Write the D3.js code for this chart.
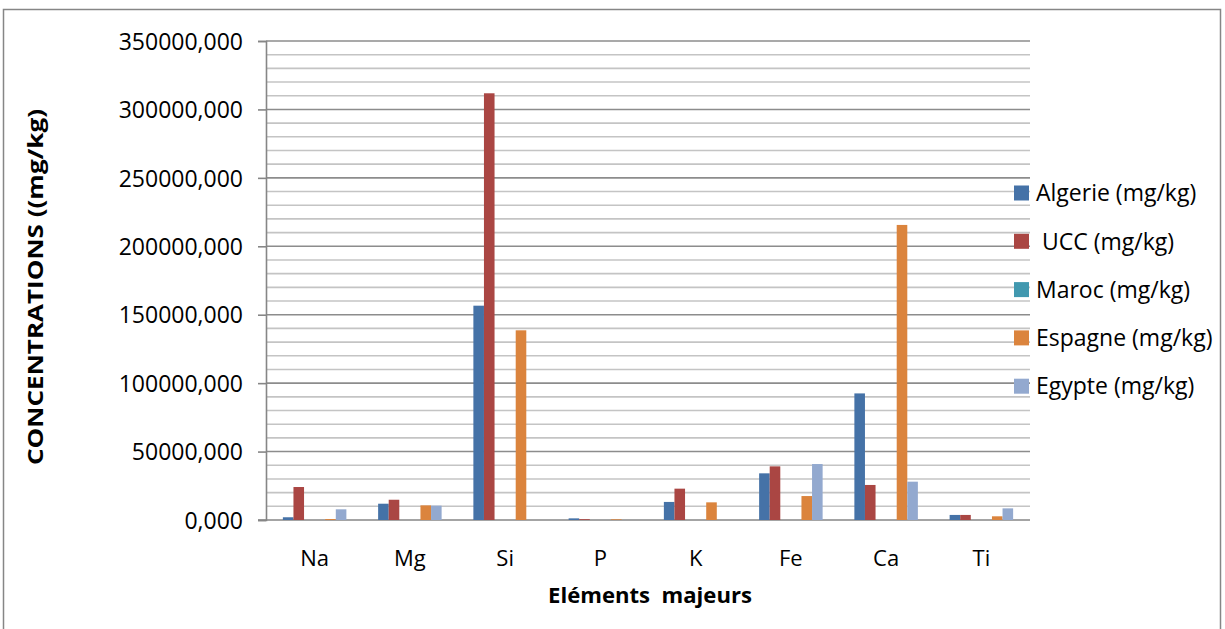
<!DOCTYPE html>
<html>
<head>
<meta charset="utf-8">
<script src="https://cdn.jsdelivr.net/npm/d3@7"></script>
<style>
  body { margin: 0; background: #fff; }
  svg text { font-family: "Open Sans", sans-serif; fill: #000; }
</style>
</head>
<body>
<div id="chart"></div>
<script>
// elements on the x axis
const elements = ["Na", "Mg", "Si", "P", "K", "Fe", "Ca", "Ti"]

// series values (mg/kg)
const algerie = [2000, 11900, 156600, 1200, 13200, 34100, 92500, 3700]
const ucc     = [24100, 14800, 311800, 600, 22900, 39200, 25600, 3700]
const maroc   = [0, 0, 0, 0, 0, 0, 0, 0]
const espagne = [700, 10700, 138600, 500, 12900, 17500, 215600, 2700]
const egypte  = [7800, 10500, 0, 0, 0, 40900, 28000, 8500]

const seriesNames = ["Algerie (mg/kg)", " UCC (mg/kg)", "Maroc (mg/kg)", "Espagne (mg/kg)", "Egypte (mg/kg)"]
const seriesColors = ["#4572A7", "#AA4643", "#4198AF", "#DB843D", "#93A9CF"]
// the original workbook keeps an empty slot between Maroc and Espagne
const slotOf = [0, 1, 2, 4, 5]

const yTicks = d3.range(0, 350001, 50000)

const series = [algerie, ucc, maroc, espagne, egypte].map((vals, i) => ({
  name: seriesNames[i], color: seriesColors[i], slot: slotOf[i],
  values: vals.map((v, j) => ({el: elements[j], v: v}))
}))

const W = 1225, H = 629
const plot = {left: 267, right: 1029, top: 41, bottom: 520}

const svg = d3.select("#chart").append("svg")
  .attr("width", W).attr("height", H)

// outer frame
svg.append("rect")
  .attr("x", 3.5).attr("y", 9.5)
  .attr("width", 1217).attr("height", 640)
  .attr("fill", "none").attr("stroke", "#868686").attr("stroke-width", 1.5)

const x = d3.scaleBand().domain(elements).range([plot.left, plot.right])
const xs = d3.scaleBand().domain(d3.range(6)).range([0, x.bandwidth()]).paddingOuter(1.5)
const y = d3.scaleLinear().domain([0, 350000]).range([plot.bottom, plot.top])

// gridlines (minor every 10000, major every 50000)
svg.append("g").selectAll("line")
  .data(d3.range(10000, 350001, 10000))
  .join("line")
    .attr("x1", plot.left - 1).attr("x2", plot.right + 1)
    .attr("y1", d => y(d)).attr("y2", d => y(d))
    .attr("stroke", d => d % 50000 == 0 ? "#8c8c8c" : "#c4c4c4")
    .attr("stroke-width", 1.6)

// y axis
const gY = svg.append("g")
  .attr("transform", "translate(" + (plot.left - 1) + ",0)")
  .call(d3.axisLeft(y)
    .tickValues(yTicks)
    .tickSize(8)
    .tickPadding(15)
    .tickFormat(d => d.toFixed(3).replace(".", ",")))
gY.select(".domain").attr("stroke", "#868686").attr("stroke-width", 1.6)
gY.selectAll(".tick line").attr("stroke", "#868686").attr("stroke-width", 1.6)
gY.selectAll(".tick text").style("font-size", "23px").attr("dy", "0.36em")

// x axis line
svg.append("line")
  .attr("x1", plot.left - 9).attr("x2", plot.right + 1)
  .attr("y1", plot.bottom).attr("y2", plot.bottom)
  .attr("stroke", "#868686").attr("stroke-width", 1.6)

svg.append("g").selectAll("text")
  .data(elements)
  .join("text")
    .attr("x", d => x(d) + x.bandwidth() / 2)
    .attr("y", 566)
    .attr("text-anchor", "middle")
    .style("font-size", "22px")
    .text(d => d)

// bars
svg.append("g").selectAll("g")
  .data(series)
  .join("g")
    .attr("fill", d => d.color)
  .selectAll("rect")
  .data(d => d.values.map(p => ({...p, slot: d.slot})))
  .join("rect")
    .attr("x", d => x(d.el) + xs(d.slot))
    .attr("width", xs.bandwidth())
    .attr("y", d => y(d.v))
    .attr("height", d => y(0) - y(d.v))

// axis titles
svg.append("text")
  .attr("x", 650).attr("y", 603)
  .attr("text-anchor", "middle")
  .attr("textLength", 204).attr("lengthAdjust", "spacingAndGlyphs")
  .style("font-size", "21px").style("font-weight", "bold")
  .style("white-space", "pre")
  .text("Eléments  majeurs")

svg.append("text")
  .attr("transform", "translate(43,287) rotate(-90)")
  .attr("text-anchor", "middle")
  .attr("textLength", 356).attr("lengthAdjust", "spacingAndGlyphs")
  .style("font-size", "21px").style("font-weight", "bold")
  .text("CONCENTRATIONS ((mg/kg)")

// legend
const legend = svg.append("g").selectAll("g")
  .data(series)
  .join("g")
    .attr("transform", (d, i) => "translate(1014," + (193 + i * 48.3) + ")")
legend.append("rect")
  .attr("x", 0).attr("y", -7.5)
  .attr("width", 15).attr("height", 15)
  .attr("fill", d => d.color)
legend.append("text")
  .attr("x", 22).attr("y", 0).attr("dy", "0.36em")
  .style("font-size", "23px")
  .style("white-space", "pre")
  .text(d => d.name)
</script>
</body>
</html>
